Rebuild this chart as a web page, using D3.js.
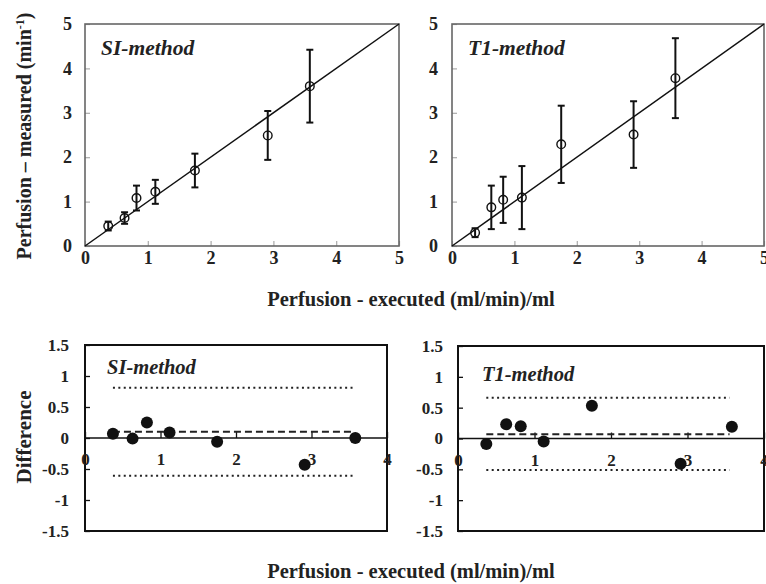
<!DOCTYPE html>
<html><head><meta charset="utf-8">
<script src="https://cdn.jsdelivr.net/npm/d3@7"></script>
<style>
body{margin:0;background:#fff}
svg text{font-family:"Liberation Serif","Times New Roman",serif;font-weight:bold;fill:#222}
</style>
</head><body><svg id="c" width="766" height="584"></svg>
<script>
// ---- data ----
const executed   = [0.37, 0.63, 0.82, 1.12, 1.75, 2.91, 3.58];
const siMeasured = [0.45, 0.63, 1.08, 1.22, 1.70, 2.49, 3.60];
const siError    = [0.10, 0.13, 0.28, 0.27, 0.38, 0.55, 0.82];
const t1Measured = [0.30, 0.87, 1.04, 1.09, 2.29, 2.51, 3.78];
const t1Error    = [0.10, 0.49, 0.52, 0.71, 0.87, 0.75, 0.90];
const siDiff     = [0.07, -0.01, 0.25, 0.09, -0.06, -0.43, 0.00];
const t1Diff     = [-0.09, 0.23, 0.20, -0.05, 0.53, -0.41, 0.19];
const siBias = 0.10, siLimits = [-0.61, 0.81];
const t1Bias = 0.07, t1Limits = [-0.51, 0.66];
const limitRange = [0.37, 3.55];
const topTicks = [0, 1, 2, 3, 4, 5];
const diffXTicks = [0, 1, 2, 3, 4];
const diffYTicks = [-1.5, -1, -0.5, 0, 0.5, 1, 1.5];
const diffYLabels = ["-1.5", "-1", "-0.5", "0", "0.5", "1", "1.5"];

const svg = d3.select("#c");

function topPanel(x0, x1, label, meas, err, ypad) {
  const x = d3.scaleLinear().domain([0, 5]).range([x0, x1]);
  const y = d3.scaleLinear().domain([0, 5]).range([246, 24]);
  const g = svg.append("g");
  const ya = g.append("g").attr("transform", `translate(${x0},0)`)
    .call(d3.axisLeft(y).tickValues(topTicks).tickSize(-5).tickPadding(ypad).tickFormat(d3.format("d")));
  const xa = g.append("g").attr("transform", `translate(0,246)`)
    .call(d3.axisBottom(x).tickValues(topTicks).tickSize(-5).tickPadding(5).tickFormat(d3.format("d")));
  [ya, xa].forEach(a => {
    a.select(".domain").remove();
    a.selectAll("line").attr("stroke", "#aaa").attr("stroke-width", 1.2);
    a.selectAll("text").style("font-size", "18px").attr("fill", "#222");
  });
  g.append("rect").attr("x", x0).attr("y", 24).attr("width", x1 - x0).attr("height", 222)
    .attr("fill", "none").attr("stroke", "#666").attr("stroke-width", 1.6);
  g.append("line").attr("x1", x(0)).attr("y1", y(0)).attr("x2", x(5)).attr("y2", y(5))
    .attr("stroke", "#111").attr("stroke-width", 1.5);
  const pts = executed.map((e, i) => ({x: e, y: meas[i], e: err[i]}));
  const eb = g.selectAll(".eb").data(pts).enter().append("g");
  eb.append("line").attr("x1", d => x(d.x)).attr("x2", d => x(d.x))
    .attr("y1", d => y(d.y - d.e)).attr("y2", d => y(d.y + d.e)).attr("stroke", "#111").attr("stroke-width", 2);
  [1, -1].forEach(s => eb.append("line").attr("x1", d => x(d.x) - 3.5).attr("x2", d => x(d.x) + 3.5)
    .attr("y1", d => y(d.y + s * d.e)).attr("y2", d => y(d.y + s * d.e)).attr("stroke", "#111").attr("stroke-width", 2));
  eb.append("circle").attr("cx", d => x(d.x)).attr("cy", d => y(d.y)).attr("r", 4.3)
    .attr("fill", "#fff").attr("fill-opacity", 0).attr("stroke", "#111").attr("stroke-width", 1.4);
  g.append("text").attr("x", x0 + 16).attr("y", 55).style("font-size", "21.5px").style("font-style", "italic").text(label);
}

function diffPanel(x0, x1, y0, y1, label, diff, bias, lim, ypad, lx, ly) {
  const x = d3.scaleLinear().domain([0, 4]).range([x0, x1]);
  const y = d3.scaleLinear().domain([-1.5, 1.5]).range([y1, y0]);
  const g = svg.append("g");
  g.append("rect").attr("x", x0).attr("y", y0).attr("width", x1 - x0).attr("height", y1 - y0)
    .attr("fill", "none").attr("stroke", "#111").attr("stroke-width", 2);
  const ya = g.append("g").attr("transform", `translate(${x0},0)`)
    .call(d3.axisLeft(y).tickValues(diffYTicks).tickSize(-5).tickPadding(ypad).tickFormat((d, i) => diffYLabels[i]));
  ya.select(".domain").remove();
  ya.selectAll("line").attr("stroke", "#111").attr("stroke-width", 1.3);
  ya.selectAll("text").style("font-size", "17px");
  const xa = g.append("g").attr("transform", `translate(0,${y(0)})`)
    .call(d3.axisBottom(x).tickValues(diffXTicks).tickSize(-6).tickPadding(15).tickFormat(d3.format("d")));
  xa.select(".domain").remove();
  xa.selectAll("line").attr("stroke", "#111").attr("stroke-width", 1.3);
  xa.selectAll("text").style("font-size", "17px");
  g.append("line").attr("x1", x0).attr("x2", x1).attr("y1", y(0)).attr("y2", y(0)).attr("stroke", "#111").attr("stroke-width", 1.6);
  lim.forEach(v => g.append("line").attr("x1", x(limitRange[0])).attr("x2", x(limitRange[1]))
    .attr("y1", y(v)).attr("y2", y(v)).attr("stroke", "#222").attr("stroke-width", 2).attr("stroke-dasharray", "2,3.4"));
  g.append("line").attr("x1", x(limitRange[0])).attr("x2", x(limitRange[1]))
    .attr("y1", y(bias)).attr("y2", y(bias)).attr("stroke", "#222").attr("stroke-width", 2).attr("stroke-dasharray", "7,4");
  g.selectAll(".pt").data(executed.map((e, i) => [e, diff[i]])).enter().append("circle")
    .attr("cx", d => x(d[0])).attr("cy", d => y(d[1])).attr("r", 6).attr("fill", "#111");
  g.append("text").attr("x", lx).attr("y", ly).style("font-size", "20.5px").style("font-style", "italic").text(label);
}

topPanel(85, 399, "SI-method", siMeasured, siError, 13);
topPanel(452, 764, "T1-method", t1Measured, t1Error, 14);
diffPanel(85, 387, 345, 531, "SI-method", siDiff, siBias, siLimits, 16, 107, 374);
diffPanel(458, 764, 346, 531, "T1-method", t1Diff, t1Bias, t1Limits, 15, 482, 381);

// axis titles
const yt = svg.append("text").attr("transform", "translate(31,136) rotate(-90)").attr("text-anchor", "middle").style("font-size", "20px");
yt.append("tspan").text("Perfusion \u2013 measured (min");
yt.append("tspan").attr("dy", -7).style("font-size", "12px").text("-1");
yt.append("tspan").attr("dy", 7).text(")");
svg.append("text").attr("x", 411).attr("y", 306).attr("text-anchor", "middle").style("font-size", "20.5px")
  .text("Perfusion - executed (ml/min)/ml");
svg.append("text").attr("transform", "translate(31,437) rotate(-90)").attr("text-anchor", "middle").style("font-size", "21px")
  .text("Difference");
svg.append("text").attr("x", 411).attr("y", 578).attr("text-anchor", "middle").style("font-size", "20.5px")
  .text("Perfusion - executed (ml/min)/ml");
</script></body></html>
